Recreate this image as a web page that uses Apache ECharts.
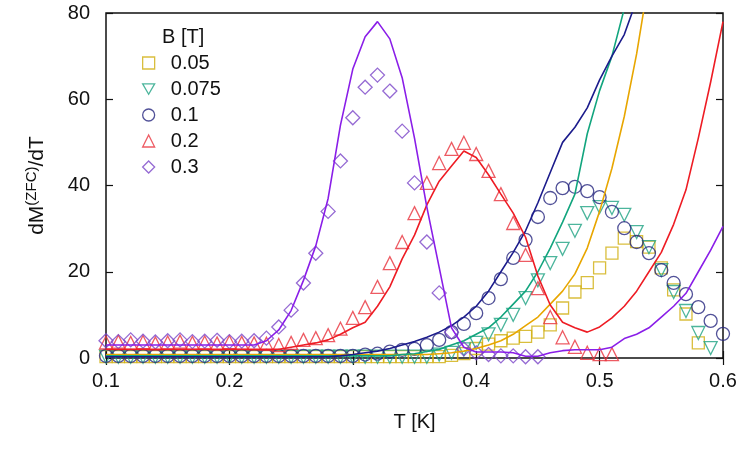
<!DOCTYPE html>
<html>
<head>
<meta charset="utf-8">
<script src="https://cdn.jsdelivr.net/npm/echarts@6/dist/echarts.min.js"></script>
<style>
html,body{margin:0;padding:0;background:#fff;}
#chart{width:750px;height:449px;}
</style>
</head>
<body>
<div id="chart"></div>
<script>
// Temperature grid T [K]
const T = [0.10,0.11,0.12,0.13,0.14,0.15,0.16,0.17,0.18,0.19,
           0.20,0.21,0.22,0.23,0.24,0.25,0.26,0.27,0.28,0.29,
           0.30,0.31,0.32,0.33,0.34,0.35,0.36,0.37,0.38,0.39,
           0.40,0.41,0.42,0.43,0.44,0.45,0.46,0.47,0.48,0.49,
           0.50,0.51,0.52,0.53,0.54,0.55,0.56,0.57,0.58,0.59,0.60];

// Legend labels (B [T])
const fieldLabels = ['0.05','0.075','0.1','0.2','0.3'];

// Measured points (markers)
const pts005 = [0.3,0.3,0.3,0.3,0.3,0.3,0.3,0.3,0.3,0.3,
                0.3,0.3,0.3,0.3,0.3,0.3,0.3,0.3,0.3,0.3,
                0.3,0.3,0.3,0.3,0.3,0.3,0.3,0.3,0.6,1.0,
                2.2,3.2,4.0,4.6,5.0,6.0,7.7,11.6,15.3,17.5,
                20.9,24.3,27.8,27.0,25.7,20.9,15.8,10.2,3.5,null,null];
const pts0075 = [0.3,0.3,0.3,0.3,0.3,0.3,0.3,0.3,0.3,0.3,
                 0.3,0.3,0.3,0.3,0.3,0.3,0.3,0.3,0.3,0.3,
                 0.3,0.3,0.3,0.3,0.3,0.3,0.3,0.8,1.2,2.0,
                 3.5,5.5,7.7,10.0,13.9,18.0,22.0,25.3,29.5,33.6,
                 35.0,34.8,33.2,29.2,25.7,20.4,15.3,10.9,5.8,2.3,null];
const pts01 = [0.5,0.5,0.5,0.5,0.5,0.5,0.5,0.5,0.5,0.5,
               0.5,0.5,0.5,0.5,0.5,0.5,0.5,0.5,0.5,0.5,
               0.5,0.8,1.0,1.5,1.9,2.1,3.0,4.2,6.0,7.9,
               10.4,13.9,18.3,23.2,27.4,32.7,37.1,39.4,39.7,38.7,
               37.3,33.9,30.1,26.9,24.3,20.4,17.4,14.8,11.8,8.6,5.6];
const pts02 = [3.6,3.8,3.5,3.7,3.4,3.6,3.8,3.5,3.6,3.4,
               3.7,3.5,3.4,3.3,3.0,3.5,4.2,4.6,5.3,6.8,
               9.3,11.8,16.5,22.0,26.9,33.6,40.6,45.2,48.5,49.9,
               47.3,43.4,38.0,31.3,23.9,16.2,9.5,4.8,2.6,1.2,
               0.9,0.9,null,null,null,null,null,null,null,null,null];
const pts03 = [4.0,3.8,4.2,3.9,3.7,4.0,4.2,3.8,3.9,4.1,
               3.8,3.9,4.0,4.6,7.2,11.1,17.4,24.3,34.0,45.7,
               55.7,62.8,65.6,61.9,52.6,40.6,26.9,15.1,6.0,2.1,
               1.2,0.8,0.5,0.5,0.3,0.3,null,null,null,null,
               null,null,null,null,null,null,null,null,null,null,null];

// Model curves (lines)
const line005 = [0.8,0.8,0.8,0.8,0.8,0.8,0.8,0.8,0.8,0.8,
                 0.8,0.8,0.8,0.8,0.8,0.8,0.8,0.8,0.8,0.8,
                 0.8,0.8,0.8,0.8,0.8,0.8,0.8,1.0,1.2,1.6,
                 2.2,3.0,4.0,5.5,7.5,9.5,12.5,15.5,19.5,25.5,
                 34.0,44.0,56.0,70.5,88.0,null,null,null,null,null,null];
const line0075 = [0.5,0.5,0.5,0.5,0.5,0.5,0.5,0.5,0.5,0.5,
                  0.5,0.5,0.5,0.5,0.5,0.5,0.5,0.5,0.5,0.5,
                  0.5,0.5,0.5,0.5,0.8,1.0,1.5,2.0,3.0,4.0,
                  5.5,7.0,9.5,12.5,15.5,20.0,25.5,31.5,38.0,52.0,
                  62.0,70.0,81.0,null,null,null,null,null,null,null,null];
const line01 = [0.3,0.3,0.3,0.3,0.3,0.3,0.3,0.3,0.3,0.3,
                0.3,0.3,0.3,0.3,0.3,0.3,0.3,0.3,0.3,0.5,
                0.8,1.2,1.6,2.2,3.0,3.8,4.8,6.0,7.5,9.5,
                12.0,15.5,20.0,24.5,29.5,36.0,43.0,50.0,53.5,58.0,
                64.5,70.0,75.0,83.0,null,null,null,null,null,null,null];
const line02 = [2.0,2.0,2.0,2.0,2.0,2.0,2.0,2.0,2.0,2.0,
                2.0,2.0,2.0,2.0,2.0,2.5,3.0,3.5,4.2,5.5,
                7.0,8.3,12.0,16.5,23.0,28.5,35.5,41.0,44.5,48.0,
                46.5,42.5,38.0,33.6,28.0,19.0,12.3,8.3,7.0,6.0,
                7.2,9.3,12.0,15.5,20.0,24.5,31.0,39.0,51.0,64.0,78.0];
const line03 = [3.0,3.0,3.0,3.0,3.0,3.0,3.0,3.0,3.0,3.0,
                3.0,3.0,3.0,4.0,6.5,11.0,18.0,26.0,37.0,54.0,
                67.0,74.5,78.0,74.0,65.0,51.0,35.0,21.0,7.0,2.5,
                1.4,1.4,1.4,1.2,0.4,0.4,1.2,1.7,1.9,1.9,
                1.9,2.5,4.5,5.5,7.0,9.5,12.0,15.0,20.0,25.0,30.5];

// Axis ticks
const xTicks = [0.1,0.2,0.3,0.4,0.5,0.6];
const yTicks = [0,20,40,60,80];

const pair = arr => T.map((t,i) => [t, arr[i]]).filter(p => p[1] !== null);

const colors = {
  sq: '#cfae0c', sqLine: '#e8a600',
  gr: '#1fa383', grLine: '#12a57e',
  nv: '#25257e', nvLine: '#1c1c8c',
  rd: '#e8323c', rdLine: '#ee1c24',
  pu: '#7b45c8', puLine: '#8a1ee8'
};

const FONT = 'Liberation Sans, Arial, Helvetica, sans-serif';

function pointSeries(name, data, symbol, color, rotate, size) {
  return {
    type: 'scatter', name: name, data: pair(data),
    symbol: symbol, symbolSize: size, symbolRotate: rotate || 0,
    itemStyle: { color: 'rgba(0,0,0,0)', borderColor: color, borderWidth: 1.3 },
    emphasis: { disabled: true }, z: 3, clip: false
  };
}
function lineSeries(data, color) {
  return {
    type: 'line', name: '_l', data: pair(data), showSymbol: false, symbol: 'none',
    lineStyle: { color: color, width: 1.6 }, itemStyle: { color: color },
    emphasis: { disabled: true }, z: 4, clip: true, silent: true
  };
}

const chart = echarts.init(document.getElementById('chart'), null, { renderer: 'canvas' });
const axisCommon = {
  type: 'value', splitLine: { show: false }, axisLine: { show: false },
  axisTick: { show: true, inside: true, length: 7, lineStyle: { color: '#111', width: 1.2 } }
};
const legendIcons = ['rect', 'path://M0,0L12,0L6,10.4Z', 'circle', 'triangle', 'diamond'];
chart.setOption({
  animation: false,
  backgroundColor: '#fff',
  textStyle: { fontFamily: FONT },
  title: {
    text: 'B [T]', left: 157, top: 22, padding: 5,
    textStyle: { fontFamily: FONT, fontSize: 20, fontWeight: 'normal', color: '#111' }
  },
  legend: {
    orient: 'vertical', left: 137, top: 48, padding: 5,
    itemWidth: 12, itemHeight: 12, itemGap: 6,
    data: fieldLabels.map((n, i) => ({ name: n, icon: legendIcons[i] })),
    formatter: n => '  ' + n,
    textStyle: { fontFamily: FONT, fontSize: 20, color: '#111' },
    itemStyle: { borderWidth: 1.3 },
    selectedMode: false
  },
  grid: {
    left: 106, right: 27, top: 13, bottom: 91,
    show: true, borderColor: '#111', borderWidth: 1.5, backgroundColor: 'rgba(0,0,0,0)'
  },
  xAxis: [
    Object.assign({}, axisCommon, {
      position: 'bottom', min: xTicks[0], max: xTicks[xTicks.length-1], interval: 0.1,
      axisLabel: { fontFamily: FONT, fontSize: 20, color: '#111', margin: 13,
                   formatter: v => v.toFixed(1) },
      name: 'T [K]', nameLocation: 'middle', nameGap: 54,
      nameTextStyle: { fontFamily: FONT, fontSize: 20, color: '#111' }
    }),
    Object.assign({}, axisCommon, {
      position: 'top', min: xTicks[0], max: xTicks[xTicks.length-1], interval: 0.1,
      axisLabel: { show: false }
    })
  ],
  yAxis: [
    Object.assign({}, axisCommon, {
      position: 'left', min: yTicks[0], max: yTicks[yTicks.length-1], interval: 20,
      axisLabel: { fontFamily: FONT, fontSize: 20, color: '#111', margin: 16 },
      name: '{a|dM}{s|(ZFC)}{a|/dT}', nameLocation: 'middle', nameGap: 58,
      nameTextStyle: {
        fontFamily: FONT, color: '#111',
        rich: {
          a: { fontFamily: FONT, fontSize: 21, color: '#111', verticalAlign: 'bottom' },
          s: { fontFamily: FONT, fontSize: 15, color: '#111', verticalAlign: 'bottom', padding: [0,0,9,0] }
        }
      }
    }),
    Object.assign({}, axisCommon, {
      position: 'right', min: yTicks[0], max: yTicks[yTicks.length-1], interval: 20,
      axisLabel: { show: false }
    })
  ],
  series: [
    pointSeries(fieldLabels[0], pts005, 'rect', colors.sq, 0, 12),
    pointSeries(fieldLabels[1], pts0075, 'triangle', colors.gr, 180, 13),
    pointSeries(fieldLabels[2], pts01, 'circle', colors.nv, 0, 13),
    pointSeries(fieldLabels[3], pts02, 'triangle', colors.rd, 0, 13),
    pointSeries(fieldLabels[4], pts03, 'diamond', colors.pu, 0, 14),
    lineSeries(line005, colors.sqLine),
    lineSeries(line0075, colors.grLine),
    lineSeries(line01, colors.nvLine),
    lineSeries(line02, colors.rdLine),
    lineSeries(line03, colors.puLine)
  ]
});
</script>
</body>
</html>
